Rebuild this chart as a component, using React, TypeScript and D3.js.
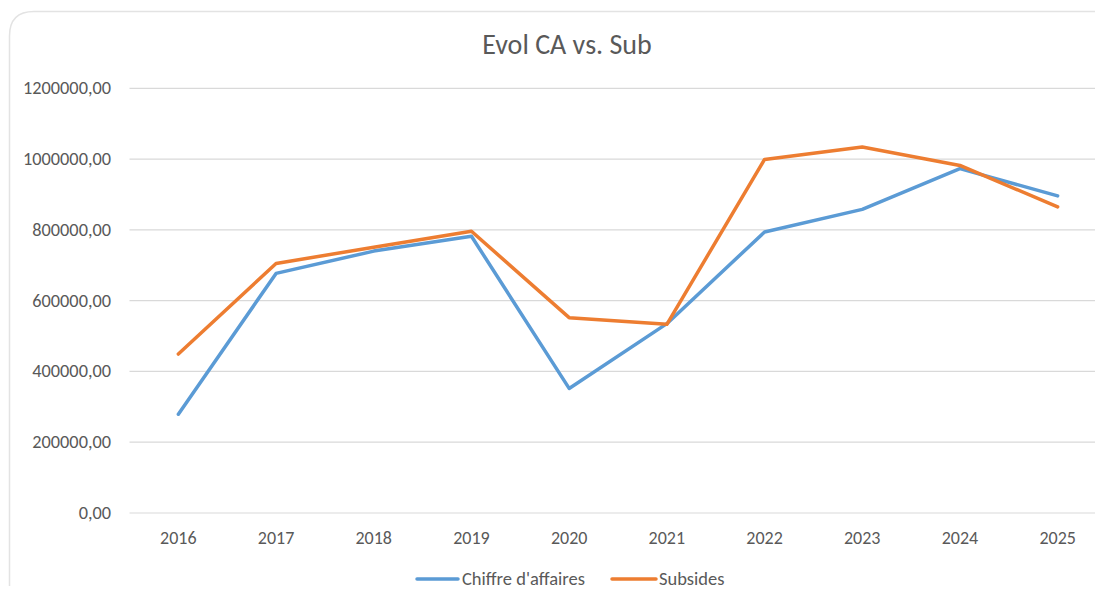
import React from "react";
import * as d3 from "d3";

const years = ["2016", "2017", "2018", "2019", "2020", "2021", "2022", "2023", "2024", "2025"];
const chiffreAffaires = [279000, 677000, 740000, 782000, 352000, 535000, 794000, 858000, 973000, 896000];
const subsides = [449000, 705000, 751000, 796000, 552000, 533000, 999000, 1034000, 982000, 865000];
const yTicks = [0, 200000, 400000, 600000, 800000, 1000000, 1200000];
const seriesNames = ["Chiffre d'affaires", "Subsides"];
const seriesColors = ["#5B9BD5", "#ED7D31"];

const W = 1095;
const H = 599;
const FONT = "Calibri, Carlito, Lato, 'Open Sans', sans-serif";

export default function App() {
  const x = d3.scaleBand<string>().domain(years).range([129.5, 1106.5]);
  const y = d3.scaleLinear().domain([0, 1200000]).range([513, 88.3]);
  const fmt = (v: number) => d3.format(".2f")(v).replace(".", ",");
  const line = d3
    .line<number>()
    .x((_, i) => (x(years[i]) as number) + x.bandwidth() / 2)
    .y((d) => y(d));
  const series = [chiffreAffaires, subsides];

  return (
    <svg
      width={W}
      height={H}
      style={{ position: "absolute", left: 0, top: 0, background: "#fff" }}
      fontFamily={FONT}
    >
      <rect x={0} y={0} width={W} height={H} fill="#fff" />
      <path
        d="M9.5,586 L9.5,36 Q9.5,11.5 34,11.5 L1095,11.5"
        fill="none"
        stroke="#e3e3e3"
        strokeWidth={1.5}
      />
      <text x={567} y={54} textAnchor="middle" fontSize={28} fill="#595959">
        Evol CA vs. Sub
      </text>
      {yTicks.map((t) => (
        <g key={t}>
          <line x1={129.5} x2={1106} y1={y(t)} y2={y(t)} stroke="#d9d9d9" strokeWidth={1.2} />
          <text x={111} y={y(t) + 6} textAnchor="end" fontSize={18.3} fill="#595959">
            {fmt(t)}
          </text>
        </g>
      ))}
      {years.map((yr) => (
        <text
          key={yr}
          x={(x(yr) as number) + x.bandwidth() / 2}
          y={544}
          textAnchor="middle"
          fontSize={18}
          fill="#595959"
        >
          {yr}
        </text>
      ))}
      {series.map((s, i) => (
        <path
          key={i}
          d={line(s) || ""}
          fill="none"
          stroke={seriesColors[i]}
          strokeWidth={3.5}
          strokeLinejoin="round"
          strokeLinecap="round"
        />
      ))}
      <g>
        <line x1={417} x2={458} y1={579} y2={579} stroke={seriesColors[0]} strokeWidth={3.5} strokeLinecap="round" />
        <text x={462} y={585} fontSize={18.5} fill="#595959">
          {seriesNames[0]}
        </text>
        <line x1={612} x2={656} y1={579} y2={579} stroke={seriesColors[1]} strokeWidth={3.5} strokeLinecap="round" />
        <text x={659} y={585} fontSize={18.5} fill="#595959">
          {seriesNames[1]}
        </text>
      </g>
    </svg>
  );
}
